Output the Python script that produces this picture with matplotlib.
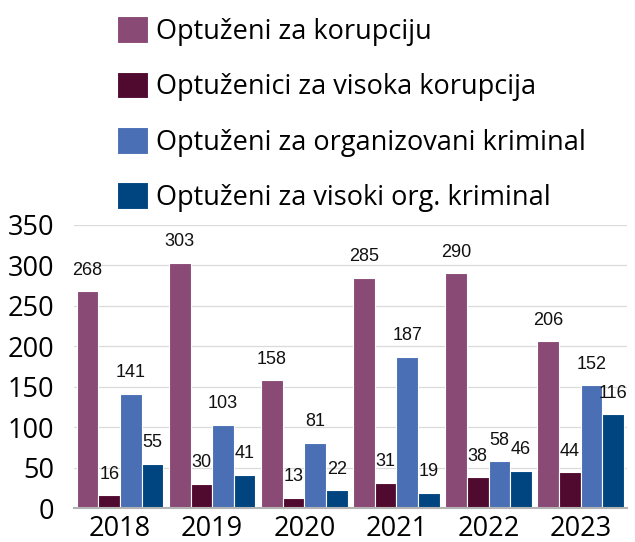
import matplotlib.pyplot as plt
import numpy as np

years = ['2018', '2019', '2020', '2021', '2022', '2023']
korupcija = [268, 303, 158, 285, 290, 206]
visoka_korupcija = [16, 30, 13, 31, 38, 44]
org_kriminal = [141, 103, 81, 187, 58, 152]
visoki_org_kriminal = [55, 41, 22, 19, 46, 116]

labels = ['Optuženi za korupciju',
          'Optuženici za visoka korupcija',
          'Optuženi za organizovani kriminal',
          'Optuženi za visoki org. kriminal']
colors = ['#8a4a76', '#510a2f', '#4a6fb4', '#00457f']

fig = plt.figure(figsize=(6.35, 5.42), dpi=100)
ax = fig.add_axes([0.1165, 0.0627, 0.8705, 0.5223])

x = np.arange(len(years))
w = 0.235
series = [korupcija, visoka_korupcija, org_kriminal, visoki_org_kriminal]
for j, vals in enumerate(series):
    pos = x + (j - 1.5) * w
    ax.bar(pos, vals, width=w, color=colors[j], edgecolor='white',
           linewidth=0.8, label=labels[j], zorder=3)
    for p, v in zip(pos, vals):
        ax.annotate(str(v), (p, v), xytext=(0, 21), textcoords='offset pixels',
                    ha='center', va='center', fontsize=13,
                    family='Liberation Sans', color='#111111',
                    annotation_clip=False)

ax.set_xlim(-0.5, 5.5)
ax.set_ylim(0, 350)
ax.set_yticks(range(0, 351, 50))
ax.set_xticks(x)
ax.set_xticklabels(years)
ax.yaxis.grid(True, color='#dadada', linewidth=0.9, zorder=0)
for s in ['top', 'right', 'left']:
    ax.spines[s].set_visible(False)
ax.spines['bottom'].set_color('#b3b3b3')
ax.spines['bottom'].set_linewidth(1.5)
ax.spines['bottom'].set_zorder(4)
ax.tick_params(length=0, labelsize=19.5)
ax.tick_params(axis='y', pad=14)
ax.tick_params(axis='x', pad=5)
for t in ax.get_xticklabels() + ax.get_yticklabels():
    t.set_family('Open Sans')

h, l = ax.get_legend_handles_labels()
fig.legend(h, l, loc='upper left', bbox_to_anchor=(0.159, 1.0),
           frameon=False, prop={'family': 'Open Sans', 'size': 19.5},
           handlelength=1.15, handleheight=1.15, handletextpad=0.3,
           labelspacing=0.95, borderpad=0.1)

fig.savefig('out.png', dpi=100)
